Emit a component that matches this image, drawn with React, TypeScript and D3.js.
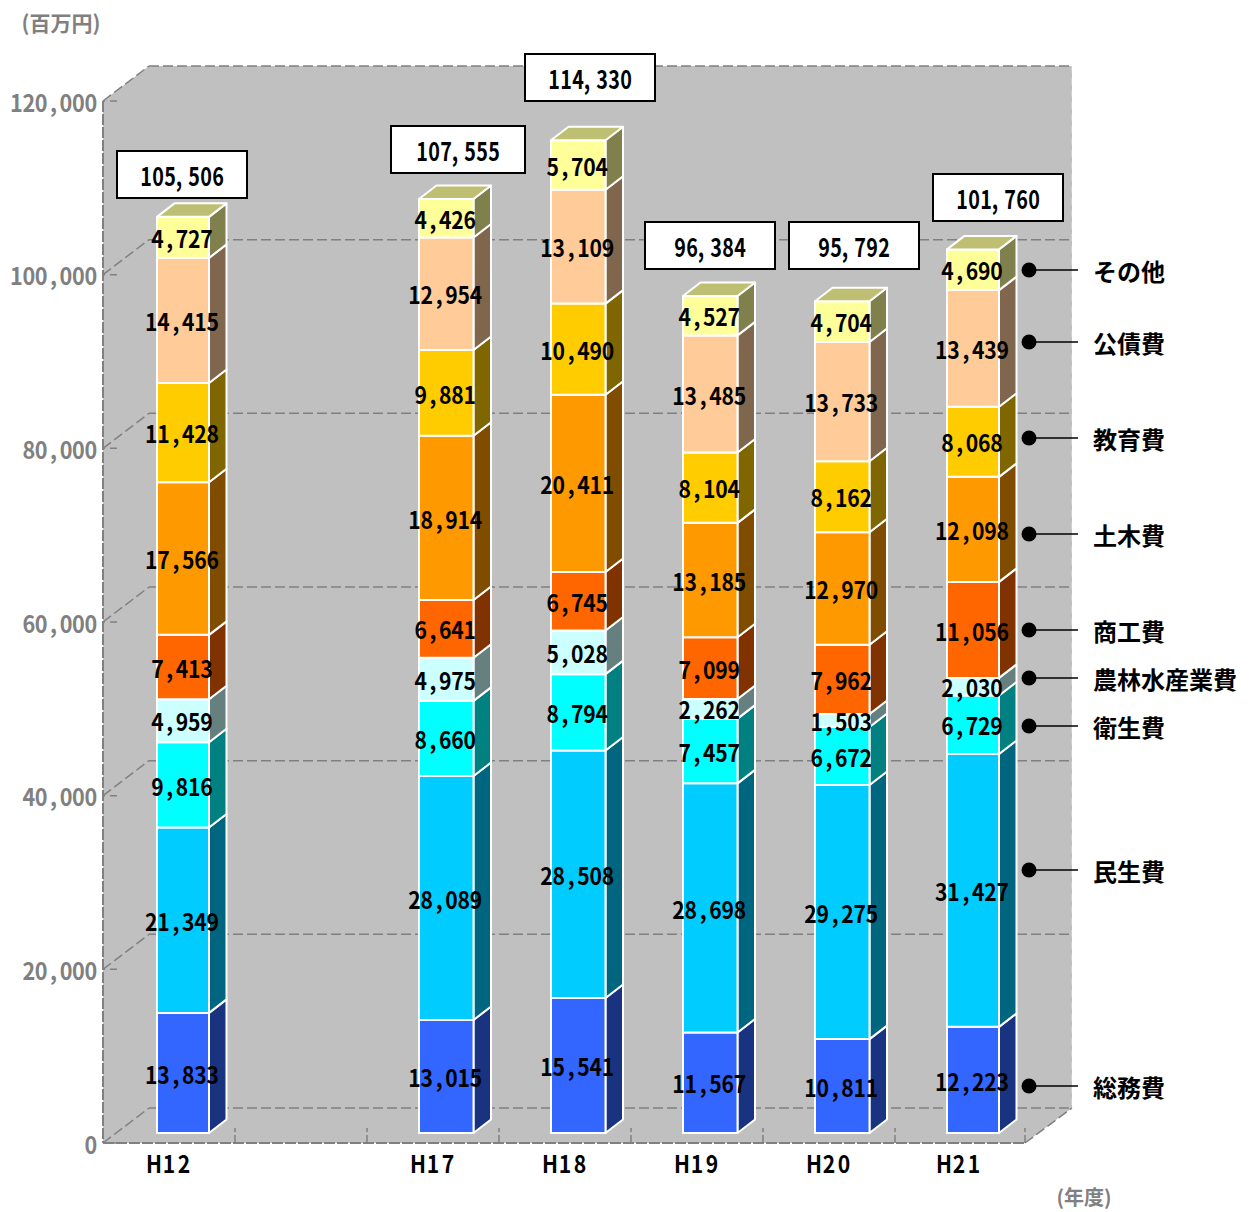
import React from "react";
import * as d3 from "d3";

const years = ["H12", "", "H17", "H18", "H19", "H20", "H21"];
const seriesNames = ["総務費", "民生費", "衛生費", "農林水産業費", "商工費", "土木費", "教育費", "公債費", "その他"];
const somu = [13833, 0, 13015, 15541, 11567, 10811, 12223];
const minsei = [21349, 0, 28089, 28508, 28698, 29275, 31427];
const eisei = [9816, 0, 8660, 8794, 7457, 6672, 6729];
const norin = [4959, 0, 4975, 5028, 2262, 1503, 2030];
const shoko = [7413, 0, 6641, 6745, 7099, 7962, 11056];
const doboku = [17566, 0, 18914, 20411, 13185, 12970, 12098];
const kyoiku = [11428, 0, 9881, 10490, 8104, 8162, 8068];
const kosai = [14415, 0, 12954, 13109, 13485, 13733, 13439];
const sonota = [4727, 0, 4426, 5704, 4527, 4704, 4690];
const seriesValues = [somu, minsei, eisei, norin, shoko, doboku, kyoiku, kosai, sonota];
const totalText = ["105, 506", "", "107, 555", "114, 330", "96, 384", "95, 792", "101, 760"];
const yTicks = [0, 20000, 40000, 60000, 80000, 100000, 120000];

const frontColors = ["#3366FF", "#00CCFF", "#00FFFF", "#CCFFFF", "#FF6600", "#FF9900", "#FFCC00", "#FFCC99", "#FFFF99"];

// annotation layout, hand placed in the reference
const totalBoxes = [[117, 151, 130], null, [391, 126, 134], [525, 54, 130], [645, 222, 130], [789, 222, 130], [933, 174, 130]];
const legendY = [1086, 870, 726, 678, 630, 534, 438, 342, 270];
const barWidths = [52, 0, 54.5, 54.5, 54.5, 54.5, 52];
const barOffsets = [54, 0, 52, 52, 52, 52, 52];
const yearLabelOffsets = [66, 0, 66, 66, 66, 66, 64];

const GRAY = "#808080";
const FONT = "'Noto Sans CJK JP', sans-serif";
const LEFT = 103, RIGHT = 1025, FLOOR = 1143, TOP = 101, SLOT_END = 1027;
const DX = 46, DY = -35;
const BAR_DX = 17.5, BAR_DY = -13.5, BAR_LIFT = 10;

const x = d3.scaleBand().domain(years.map((d, i) => String(i))).range([LEFT, SLOT_END]);
const y = d3.scaleLinear().domain([0, 120000]).range([FLOOR, TOP]);
const numFmt = d3.format(",");

const table = years.map((_, i) => {
  const row: Record<string, number> = {};
  seriesNames.forEach((s, k) => { row[s] = seriesValues[k][i]; });
  return row;
});
const stacked = d3.stack().keys(seriesNames)(table as any);

const shade = (c: string, k: number) => { const r = d3.rgb(c); return d3.rgb(r.r * k, r.g * k, r.b * k).formatHex(); };
const pts = (a: number[][]) => a.map((p) => p.join(",")).join(" ");

// half-width look: every glyph is placed in its own cell and squeezed horizontally
function Mono({ s, cx, cy, adv, fs, sx, fw, fill, advOf }: any) {
  const advs = [...s].map((c: string) => (advOf ? advOf(c) : adv));
  const total = d3.sum(advs);
  let cur = -total / 2;
  const xs = advs.map((a: number) => { const m = cur + a / 2; cur += a; return (m / sx).toFixed(2); });
  return (
    <text transform={`translate(${cx},${cy}) scale(${sx},1)`} x={xs.join(" ")} dy="0.36em" textAnchor="middle" fontSize={fs} fontWeight={fw} fill={fill} xmlSpace="preserve">
      {s}
    </text>
  );
}

export default function App() {
  const bw = x.bandwidth();
  const slot = (i: number) => x(String(i)) as number;
  const barX = (i: number) => slot(i) + barOffsets[i];
  const gridDash = "10 4";
  return (
    <svg width={1255} height={1212} style={{ position: "absolute", left: 0, top: 0, display: "block", fontFamily: FONT }}>
      <polygon
        points={pts([[LEFT, TOP], [LEFT + DX, TOP + DY], [RIGHT + DX + 1, TOP + DY], [RIGHT + DX + 1, FLOOR + DY], [RIGHT, FLOOR], [LEFT, FLOOR]])}
        fill="#C0C0C0"
      />
      {/* wall grid */}
      {yTicks.map((t) => (
        <g key={t} stroke={GRAY} strokeWidth={1.5} strokeDasharray={gridDash} fill="none">
          <line x1={LEFT} y1={y(t)} x2={LEFT + DX} y2={y(t) + DY} />
          <line x1={LEFT + DX} y1={y(t) + DY} x2={RIGHT + DX + 1} y2={y(t) + DY} />
          <line x1={LEFT} y1={y(t)} x2={LEFT + 14} y2={y(t)} strokeDasharray="2 5 7" />
        </g>
      ))}
      <line x1={LEFT} y1={TOP} x2={LEFT} y2={FLOOR} stroke={GRAY} strokeWidth={2} strokeDasharray="11 2" />
      <line x1={LEFT} y1={FLOOR} x2={RIGHT} y2={FLOOR} stroke={GRAY} strokeWidth={2} strokeDasharray="11 2" />
      <line x1={RIGHT} y1={FLOOR} x2={RIGHT + DX + 1} y2={FLOOR + DY} stroke={GRAY} strokeWidth={1.5} strokeDasharray={gridDash} />
      <line x1={RIGHT + DX + 1.5} y1={TOP + DY} x2={RIGHT + DX + 1.5} y2={FLOOR + DY} stroke="#fff" strokeWidth={1.5} strokeDasharray="7 5" />
      {years.map((_, i) => {
        const tx = Math.min(slot(i) + bw, RIGHT);
        return <line key={i} x1={tx} y1={FLOOR} x2={tx} y2={FLOOR - 15} stroke={GRAY} strokeWidth={1.5} strokeDasharray="8 3" />;
      })}

      {/* bars */}
      {years.map((name, i) =>
        name === "" ? null : (
          <g key={name} stroke="#fff" strokeWidth={2} strokeLinejoin="round">
            {stacked.map((s, k) => {
              const x0 = barX(i), x1 = x0 + barWidths[i];
              const yb = y(s[i][0]) - BAR_LIFT, yt = y(s[i][1]) - BAR_LIFT;
              return (
                <g key={k}>
                  <polygon points={pts([[x1, yb], [x1 + BAR_DX, yb + BAR_DY], [x1 + BAR_DX, yt + BAR_DY], [x1, yt]])} fill={shade(frontColors[k], 0.5)} />
                  <rect x={x0} y={yt} width={barWidths[i]} height={yb - yt} fill={frontColors[k]} />
                  {k === stacked.length - 1 && (
                    <polygon points={pts([[x0, yt], [x0 + BAR_DX, yt + BAR_DY], [x1 + BAR_DX, yt + BAR_DY], [x1, yt]])} fill={shade(frontColors[k], 0.75)} />
                  )}
                </g>
              );
            })}
          </g>
        )
      )}

      {/* value labels */}
      {years.map((name, i) =>
        name === "" ? null : (
          <g key={name}>
            {stacked.map((s, k) => (
              <Mono key={k} s={numFmt(seriesValues[k][i])} cx={barX(i) + barWidths[i] / 2 - 1} cy={(y(s[i][0]) + y(s[i][1])) / 2 - BAR_LIFT + 2} adv={12.3} fs={24} sx={0.88} fw={700} fill="#000" />
            ))}
          </g>
        )
      )}

      {/* total boxes */}
      {years.map((name, i) => {
        const b = totalBoxes[i];
        if (!b) return null;
        return (
          <g key={name}>
            <rect x={b[0]} y={b[1]} width={b[2]} height={47} fill="#fff" stroke="#000" strokeWidth={2} />
            <Mono s={totalText[i]} cx={b[0] + b[2] / 2} cy={b[1] + 26} fs={26} sx={0.76} fw={700} fill="#000" advOf={(c: string) => (c === "," || c === " " ? 6 : 12)} />
          </g>
        );
      })}

      {/* y axis labels */}
      {yTicks.map((t) => {
        const s = numFmt(t);
        return <Mono key={t} s={s} cx={97 - (s.length * 12.4) / 2} cy={y(t) + 2} adv={12.4} fs={24} sx={0.9} fw={700} fill={GRAY} />;
      })}
      {/* x labels */}
      {years.map((name, i) =>
        name === "" ? null : (
          <Mono key={name} s={name} cx={slot(i) + yearLabelOffsets[i]} cy={1164} adv={15} fs={24} sx={0.88} fw={700} fill="#000" />
        )
      )}

      <text x={61} y={23} dy="0.36em" textAnchor="middle" fontSize={21} fontWeight={700} fill={GRAY}>(百万円)</text>
      <text x={1084} y={1199} dy="0.3em" textAnchor="middle" fontSize={20} fontWeight={700} fill={GRAY}>(年度)</text>

      {/* legend */}
      {seriesNames.map((s, k) => (
        <g key={s}>
          <line x1={1029} x2={1078} y1={legendY[k]} y2={legendY[k]} stroke="#000" strokeWidth={1.5} />
          <circle cx={1029} cy={legendY[k]} r={7.5} fill="#000" />
          <text x={1093} y={legendY[k] + 2} dy="0.36em" fontSize={24} fontWeight={700} fill="#000">{s}</text>
        </g>
      ))}
    </svg>
  );
}
